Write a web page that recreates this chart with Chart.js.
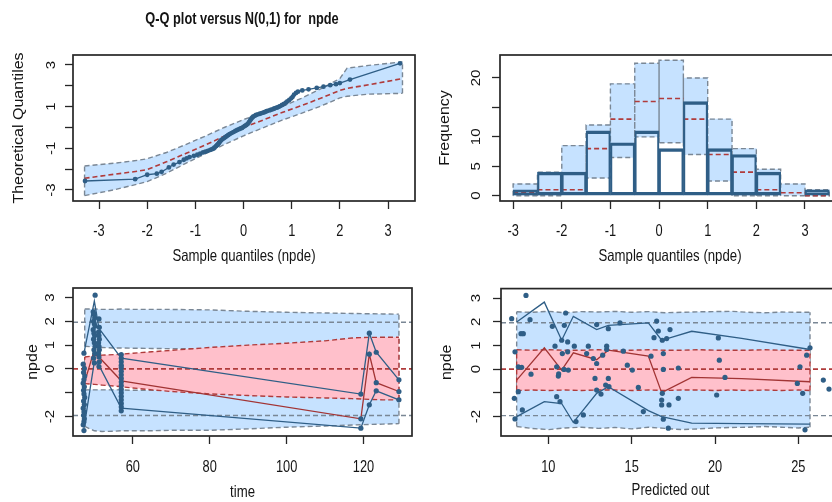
<!DOCTYPE html>
<html><head><meta charset="utf-8">
<script src="https://cdn.jsdelivr.net/npm/chart.js@4.4.1/dist/chart.umd.min.js"></script>
<style>
html,body{margin:0;padding:0;width:832px;height:502px;overflow:hidden;background:#fff;}
.p{position:absolute;}
</style></head><body>
<div class="p" style="left:0;top:0;"><canvas id="c1" width="484" height="270"></canvas></div>
<div class="p" style="left:420px;top:0;"><canvas id="c2" width="430" height="270"></canvas></div>
<div class="p" style="left:0;top:270px;"><canvas id="c3" width="416" height="232"></canvas></div>
<div class="p" style="left:420px;top:270px;"><canvas id="c4" width="430" height="232"></canvas></div>
<script>
// ================= DATA =================
// Panel 1 : Q-Q plot
const qqX = [-3.29, -2.25,-2.0,-1.8,-1.7, -1.55,-1.45,-1.33,-1.24, -1.18,-1.12,-1.03,-0.96,-0.9,-0.84,-0.79,-0.74,-0.69,-0.65,-0.62, -0.6,-0.57,-0.55,-0.53,-0.51,-0.49,-0.47,-0.44,-0.41, -0.38,-0.35,-0.32,-0.29,-0.25,-0.21,-0.17,-0.13,-0.09,-0.06,-0.03, 0.0,0.03,0.06,0.09,0.12,0.14,0.16,0.18, 0.2,0.23,0.26,0.3,0.34,0.38,0.42,0.45,0.48,0.52,0.56,0.6,0.63,0.66,0.7,0.73, 0.76,0.8,0.84,0.88,0.91,0.95,0.99,1.02, 1.05,1.09,1.13,1.22,1.35,1.52,1.66, 1.8,1.92,2.0,2.21, 3.25];
const qqY = [-2.57, -2.48,-2.27,-2.22,-2.13, -1.92,-1.78,-1.66,-1.55, -1.48,-1.42,-1.36,-1.31,-1.26,-1.2,-1.16,-1.12,-1.08,-1.04,-1.01, -0.96,-0.9,-0.85,-0.8,-0.74,-0.68,-0.62,-0.57,-0.52, -0.47,-0.42,-0.37,-0.32,-0.27,-0.22,-0.17,-0.12,-0.08,-0.05,-0.02, 0.03,0.08,0.12,0.18,0.27,0.35,0.42,0.47, 0.52,0.56,0.6,0.63,0.66,0.69,0.72,0.75,0.78,0.81,0.84,0.87,0.9,0.93,0.96,0.99, 1.03,1.08,1.13,1.19,1.25,1.32,1.4,1.47, 1.58,1.66,1.72,1.78,1.83,1.9,1.96, 2.03,2.08,2.13,2.3, 3.08];
const qqBandX  = [-3.3, -2.7, -2.2, -2.0, -1.6, -1.2, -0.8, -0.4, 0, 0.4, 0.8, 1.2, 1.6, 2.0, 2.15, 2.6, 3.3];
const qqUpper  = [-1.85, -1.72, -1.58, -1.5, -1.2, -0.82, -0.42, 0.0, 0.38, 0.7, 1.0, 1.4, 1.85, 2.35, 2.85, 2.98, 3.15];
const qqMedian = [-2.44, -2.25, -2.1, -2.02, -1.65, -1.25, -0.85, -0.42, 0.0, 0.35, 0.72, 1.05, 1.4, 1.78, 1.88, 2.05, 2.35];
const qqLower  = [-3.27, -3.0, -2.72, -2.6, -2.2, -1.72, -1.27, -0.82, -0.4, -0.02, 0.35, 0.68, 1.02, 1.42, 1.5, 1.6, 1.64];
const qqXRange = [-3.54, 3.56], qqYRange = [-3.53, 3.48];
const qqXTicks = [-3,-2,-1,0,1,2,3], qqXTickLabels = ['-3','-2','-1','0','1','2','3'];
const qqYTicks = [-3,-2,-1,0,1,2,3], qqYTickLabels = ['-3','','-1','','1','','3'];

// Panel 2 : histogram
const histBreaks = [-3,-2.5,-2,-1.5,-1,-0.5,0,0.5,1,1.5,2,2.5,3,3.5];
const histObs    = [1, 4, 4, 11, 9, 11, 8, 16, 8, 7, 4, 0, 1];
const histLower  = [0, 0, 0.5, 3, 6.5, 10, 9, 7, 2.5, 0, 0, 0, 0];
const histMedian = [0.5, 1, 1, 8, 13, 16, 16.5, 13, 7, 4, 1, 0.5, 0];
const histUpper  = [2, 4, 8.5, 12, 19, 22.5, 23, 20, 13, 8, 4.5, 2, 1];
const histXRange = [-3.27, 3.72], histYRange = [-0.9, 23.9];
const histXTicks = [-3,-2,-1,0,1,2,3], histXTickLabels = ['-3','-2','-1','0','1','2','3'];
const histYTicks = [0,5,10,15,20], histYTickLabels = ['0','5','10','','20'];

// Panel 3 : npde vs time
const timeObs = [47.3,47.1,47.4,47.2,47.5,47.3,47.1,47.4,47.2,47.3,47.5,47.2,47.4,47.1,47.3,47.2,47.4,47.3,47.1,47.3,
  50.2,49.7,49.9,50.1,49.8,50.0,50.2,49.7,49.9,50.1,49.8,50.0,50.2,49.9,50.1,49.8,50.0,
  51.2,51.3,51.1,51.2,51.3,51.1,51.2,51.3,51.1,51.2,51.3,51.2,
  57.0,57.0,57.0,57.0,57.0,57.0,57.0,57.0,57.0,57.0,57.0,57.0,57.0,57.0,57.0,57.0,57.0,
  119.3,119.3,119.3, 121.5,121.5,121.5, 123.3,123.3,123.3, 129.2,129.2,129.2];
const npdeTime = [0.66,0.2,0.02,-0.15,-0.3,-0.45,-0.6,-0.75,-0.9,-1.05,-1.2,-1.35,-1.5,-1.65,-1.8,-1.95,-2.1,-2.22,-2.35,-2.59,
  3.1,2.4,2.3,2.15,2.0,1.9,1.8,1.65,1.5,1.4,1.25,1.1,0.95,0.8,0.65,0.45,0.25,
  2.1,1.75,1.55,1.4,1.25,1.1,0.95,0.8,0.65,0.5,0.3,0.1,
  0.6,0.45,0.3,0.15,0.05,-0.1,-0.25,-0.4,-0.55,-0.7,-0.85,-1.0,-1.15,-1.3,-1.45,-1.6,-1.76,
  -1.06,-2.1,-2.49, 1.5,0.62,-1.51, 0.7,-0.58,-0.92, -0.46,-0.95,-1.3];
const timeGrid      = [47.3, 50.0, 51.2, 57.0, 119.3, 121.5, 123.3, 129.2];
const timeObsUpper  = [0.66, 2.85, 1.7, 0.45, -1.06, 1.5, 0.7, -0.46];
const timeObsMedian = [-0.65, 0.8, 0.5, -0.5, -2.1, 0.62, -0.58, -0.95];
const timeObsLower  = [-2.5, 0.3, 0.15, -1.65, -2.49, -1.51, -0.92, -1.3];
const timeBandX = [47.5, 50, 52, 55, 57, 60, 65, 70, 80, 90, 100, 110, 117, 120, 125, 129.2];
const timeHiTop = [2.52, 2.52, 2.5, 2.5, 2.52, 2.5, 2.5, 2.5, 2.48, 2.42, 2.38, 2.35, 2.33, 2.32, 2.31, 2.3];
const timeHiBot = [0.95, 0.92, 0.9, 0.88, 0.88, 0.87, 0.86, 0.85, 0.85, 0.85, 0.85, 0.85, 0.85, 0.85, 0.85, 0.85];
const timeMedTop = [0.5, 0.55, 0.58, 0.6, 0.62, 0.66, 0.72, 0.78, 0.9, 1.0, 1.08, 1.18, 1.3, 1.32, 1.33, 1.33];
const timeMedBot = [-0.62, -0.65, -0.68, -0.72, -0.75, -0.8, -0.88, -0.95, -1.05, -1.12, -1.18, -1.22, -1.25, -1.27, -1.3, -1.3];
const timeLoTop = [-0.88, -0.88, -0.88, -0.88, -0.88, -0.9, -0.9, -0.9, -0.9, -0.9, -0.9, -0.9, -0.9, -0.9, -0.9, -0.9];
const timeLoBot = [-2.42, -2.6, -2.63, -2.62, -2.6, -2.6, -2.6, -2.58, -2.58, -2.52, -2.45, -2.4, -2.36, -2.34, -2.32, -2.3];
const timeXRange = [44.45, 132.6];
const timeXTicks = [60,80,100,120], timeXTickLabels = ['60','80','100','120'];

// Panel 4 : npde vs predictions
const predObs = [7.8,8.66,8.9,8.36,8.5,8.0,8.2,8.4,8.96,7.96,8.2,8.0,8.44,
  10.24,10.4,10.5,10.6,10.62,10.5,10.7,10.8,10.84,10.94,11.04,10.96,11.16,11.16,11.2,11.56,11.66,
  12.1,12.3,12.4,12.7,12.8,12.9,12.9,12.9,13.16,13.26,13.44,13.5,13.5,13.6,13.6,13.64,
  14.3,14.5,14.74,15.04,15.4,15.7,16.16,16.34,16.5,16.6,16.84,16.9,16.9,16.84,16.8,16.8,16.9,
  17.1,17.24,17.3,17.2,17.8,17.8, 20.2,20.26,20.1,20.6, 24.94,25.1,25.26,25.5,25.7,25.4,26.5,26.84];
const npdePred = [2.13,3.11,2.09,1.5,1.5,0.73,0.1,0.08,-0.21,-1.23,-0.95,-2.1,-1.72,
  1.81,0.97,0.1,-0.29,-0.2,-1.16,-1.37,1.22,0.66,-0.01,2.37,1.85,1.15,0.73,-0.04,0.97,-2.21,
  -1.93,0.66,0.97,0.45,-0.39,0.24,1.88,-0.88,-1.05,0.59,-0.67,0.83,0.97,1.71,-0.39,-0.74,
  1.95,0.76,0.17,-0.04,-0.77,-1.79,0.55,1.33,2.03,1.61,1.22,0.66,-0.01,-1.02,-1.3,-1.51,-2.11,
  1.29,-1.51,1.67,-2.49,0.05,-1.23, 1.32,0.38,-1.09,-0.35, -0.6,0.1,-1.02,0.59,0.9,-2.56,-0.46,-0.84];
const predGrid      = [8.1, 9.76, 10.8, 11.5, 12.9, 13.6, 16.0, 16.8, 18.6, 21.6, 25.7];
const predObsUpper  = [1.99, 2.83, 1.22, 2.23, 1.67, 1.85, 1.95, 1.22, 1.6, 1.3, 0.83];
const predObsMedian = [-0.46, 0.9, -0.04, 0.69, 0.4, 0.8, 0.55, -0.99, -0.35, -0.4, -0.53];
const predObsLower  = [-2.0, -1.37, -1.45, -2.25, -1.02, -0.74, -1.75, -2.0, -2.28, -2.3, -2.32];
const predBandX  = [8.1, 9, 10, 11, 12, 13, 14, 15, 16, 17, 18, 19, 20, 21, 22, 23, 24, 25, 25.7];
const predHiTop  = [2.42, 2.4, 2.44, 2.38, 2.43, 2.41, 2.44, 2.4, 2.43, 2.38, 2.4, 2.42, 2.43, 2.44, 2.4, 2.38, 2.41, 2.4, 2.4];
const predMedTop = [0.82, 0.8, 0.82, 0.8, 0.8, 0.82, 0.8, 0.8, 0.82, 0.8, 0.8, 0.82, 0.8, 0.8, 0.8, 0.82, 0.8, 0.8, 0.8];
const predMedBot = [-0.9, -0.88, -0.9, -0.88, -0.9, -0.88, -0.88, -0.9, -0.88, -0.9, -0.88, -0.88, -0.9, -0.88, -0.9, -0.88, -0.9, -0.88, -0.9];
const predLoBot  = [-2.42, -2.5, -2.55, -2.48, -2.45, -2.5, -2.46, -2.52, -2.45, -2.5, -2.55, -2.52, -2.48, -2.46, -2.45, -2.42, -2.45, -2.48, -2.45];
const predXRange = [7.16, 27.5];
const predXTicks = [10,15,20,25], predXTickLabels = ['10','15','20','25'];

// shared npde axis
const npdeYRange = [-2.82, 3.40];
const npdeYTicks = [-2,-1,0,1,2,3], npdeYTickLabels = ['-2','','0','1','2','3'];
const refLevels = [-1.96, 0, 1.96];

// ================= STYLE =================
// The reference picture is horizontally condensed: squeeze glyphs sideways (text stays real text).
const SQX = 0.8, SQR = 0.9;
(function () {
  const proto = CanvasRenderingContext2D.prototype;
  const orig = proto.fillText;
  proto.fillText = function (text, x, y, maxWidth) {
    const m = this.getTransform();
    const rotated = Math.abs(m.b) > 1e-6;
    this.save();
    this.translate(x, y);
    if (rotated) this.scale(1, SQR); else this.scale(SQX, 1);
    if (maxWidth !== undefined) orig.call(this, text, 0, 0, rotated ? maxWidth : maxWidth / SQX);
    else orig.call(this, text, 0, 0);
    this.restore();
  };
})();

const FR = "'Liberation Sans', Arial, sans-serif";
const AX = '#262626', TXT = '#141414';
const BLUEF = '#C6E2FF', PINKF = '#FFC0CB';
const GREYD = '#7A8795', REDD = '#B03B3B', DARKB = '#2F5E86', DARKR = '#A23434';
const DASH = [5, 3];

const pts = (xs, ys) => xs.map((x, i) => ({x, y: ys[i]}));

function xAxis(range, ticks, labels, title, h, tickPad, titlePad) {
  return {
    type: 'linear', position: 'bottom', min: range[0], max: range[1], offset: false,
    afterBuildTicks: s => { s.ticks = ticks.map(v => ({value: v})); },
    afterFit: s => { s.height = h; },
    ticks: {callback: (v, i) => labels[i], font: {family: FR, size: 16, lineHeight: 1.2}, color: TXT, padding: tickPad, autoSkip: false, maxRotation: 0, minRotation: 0},
    grid: {display: true, drawOnChartArea: false, drawTicks: true, tickLength: 8, color: AX, tickColor: AX, tickWidth: 1.3, offset: false},
    border: {display: false},
    title: {display: true, text: title, font: {family: FR, size: 16.5, lineHeight: 1.2}, color: TXT, padding: {top: 0, bottom: titlePad}}
  };
}
function yAxis(range, ticks, labels, title, w, tickPad, titlePad) {
  return {
    type: 'linear', position: 'left', min: range[0], max: range[1],
    afterBuildTicks: s => { s.ticks = ticks.map(v => ({value: v})); },
    afterFit: s => { s.width = w; },
    ticks: {callback: (v, i) => labels[i], font: {family: FR, size: 15}, color: TXT, padding: tickPad, autoSkip: false, minRotation: 90, maxRotation: 90, crossAlign: 'center'},
    grid: {display: true, drawOnChartArea: false, drawTicks: true, tickLength: 8, color: AX, tickColor: AX, tickWidth: 1.3},
    border: {display: false},
    title: {display: true, text: title, font: {family: FR, size: 16, lineHeight: 1.2}, color: TXT, padding: {top: titlePad, bottom: 0}}
  };
}
const boxPlugin = {
  id: 'rbox',
  afterDatasetsDraw(chart) {
    const {ctx, chartArea: a} = chart;
    ctx.save(); ctx.strokeStyle = AX; ctx.lineWidth = 1.7; ctx.setLineDash([]);
    ctx.strokeRect(a.left, a.top, a.right - a.left, a.bottom - a.top);
    ctx.restore();
  }
};
const baseOpts = (padding) => ({
  responsive: false, animation: false, devicePixelRatio: 1,
  layout: {padding},
  plugins: {legend: {display: false}, tooltip: {enabled: false}},
  elements: {line: {tension: 0}},
});
function dashed(data, color, order, extra) {
  return Object.assign({type: 'line', data, borderColor: color, borderWidth: 1.4, borderDash: DASH, pointRadius: 0, fill: false, order, spanGaps: false}, extra || {});
}
function solid(data, color, order, w) {
  return {type: 'line', data, borderColor: color, borderWidth: w || 1.3, pointRadius: 0, fill: false, order};
}
function endEdges(xs, lo, hi) {
  const n = xs.length - 1;
  return [{x: xs[0], y: lo[0]}, {x: xs[0], y: hi[0]}, {x: xs[0], y: null}, {x: xs[n], y: lo[n]}, {x: xs[n], y: hi[n]}];
}
function refLine(range, level) { return [{x: range[0], y: level}, {x: range[1], y: level}]; }

// ================= PANEL 1 : QQ =================
{
  const o = baseOpts({left: 0, right: 0, top: 0, bottom: 0});
  o.plugins.title = {display: true, text: 'Q-Q plot versus N(0,1) for  npde', font: {family: FR, size: 16, weight: 'bold', lineHeight: 1.2}, color: TXT, padding: {top: 10.4, bottom: 25.4}};
  o.scales = {
    x: xAxis(qqXRange, qqXTicks, qqXTickLabels, 'Sample quantiles (npde)', 69, 13, 4),
    y: yAxis(qqYRange, qqYTicks, qqYTickLabels, 'Theoretical Quantiles', 73, 7.5, 9.4),
    yr: {type: 'linear', position: 'right', display: true, ticks: {display: false}, grid: {display: false}, border: {display: false}, afterFit: s => { s.width = 69; }}
  };
  new Chart(document.getElementById('c1'), {
    type: 'line',
    data: {datasets: [
      dashed(pts(qqBandX, qqUpper), GREYD, 9, {fill: '+1', backgroundColor: BLUEF}),
      dashed(pts(qqBandX, qqLower), GREYD, 8),
      dashed(endEdges(qqBandX, qqLower, qqUpper), GREYD, 7),
      dashed(pts(qqBandX, qqMedian), REDD, 5, {borderWidth: 1.6}),
      {type: 'line', data: pts(qqX, qqY), borderColor: DARKB, borderWidth: 1.3, pointRadius: 2.4, pointBackgroundColor: DARKB, pointBorderWidth: 0, fill: false, order: 1}
    ]},
    options: o, plugins: [boxPlugin]
  });
}

// ================= PANEL 2 : histogram =================
{
  const o = baseOpts({left: 0, right: 10, top: 55, bottom: 0});
  o.scales = {
    x: xAxis(histXRange, histXTicks, histXTickLabels, 'Sample quantiles (npde)', 69, 13, 4),
    y: yAxis(histYRange, histYTicks, histYTickLabels, 'Frequency', 80, 7, 15.4)
  };
  const mids = histBreaks.slice(0, -1).map((b, i) => (b + histBreaks[i + 1]) / 2);
  const rects = [], meds = [];
  for (let i = 0; i < histObs.length; i++) {
    const l = histBreaks[i], r = histBreaks[i + 1];
    rects.push({x: l, y: histLower[i]}, {x: l, y: histUpper[i]}, {x: r, y: histUpper[i]}, {x: r, y: histLower[i]}, {x: l, y: histLower[i]}, {x: l, y: null});
    meds.push({x: l, y: histMedian[i]}, {x: r, y: histMedian[i]}, {x: r, y: null});
  }
  new Chart(document.getElementById('c2'), {
    type: 'line',
    data: {datasets: [
      {type: 'bar', data: mids.map((m, i) => ({x: m, y: [histLower[i], histUpper[i]]})), backgroundColor: BLUEF, borderWidth: 0, grouped: false, barPercentage: 1, categoryPercentage: 1, order: 10},
      dashed(rects, GREYD, 8),
      dashed(meds, REDD, 6, {borderWidth: 1.6}),
      {type: 'bar', data: mids.map((m, i) => ({x: m, y: histObs[i]})), backgroundColor: 'rgba(0,0,0,0)', borderColor: DARKB, borderWidth: {top: 2.8, bottom: 2.8, left: 1.5, right: 1.5}, borderSkipped: false, grouped: false, barPercentage: 1, categoryPercentage: 1, order: 1}
    ]},
    options: o, plugins: [boxPlugin]
  });
}

// ================= PANELS 3 & 4 =================
function npdePanel(id, padding, xRange, xTicks, xLabels, xTitle, yW, yTickPad, yTitlePad, xTitlePad, bands, obs) {
  const o = baseOpts(padding);
  o.scales = {
    x: xAxis(xRange, xTicks, xLabels, xTitle, 66, 14, xTitlePad),
    y: yAxis(npdeYRange, npdeYTicks, npdeYTickLabels, 'npde', yW, yTickPad, yTitlePad)
  };
  const ds = bands.slice();
  ds.push(dashed(refLine(xRange, refLevels[0]), GREYD, 5));
  ds.push(dashed(refLine(xRange, refLevels[2]), GREYD, 5));
  ds.push(dashed(refLine(xRange, refLevels[1]), REDD, 5, {borderWidth: 1.6}));
  ds.push(solid(pts(obs.grid, obs.up), DARKB, 3));
  ds.push(solid(pts(obs.grid, obs.med), DARKR, 3));
  ds.push(solid(pts(obs.grid, obs.lo), DARKB, 3));
  ds.push({type: 'line', data: pts(obs.x, obs.y), showLine: false, pointRadius: 2.6, pointBackgroundColor: DARKB, pointBorderWidth: 0, order: 1});
  new Chart(document.getElementById(id), {type: 'line', data: {datasets: ds}, options: o, plugins: [boxPlugin]});
}

npdePanel('c3', {left: 0, right: 1, top: 18, bottom: 0}, timeXRange, timeXTicks, timeXTickLabels, 'time', 73, 8.3, 23.4, 0, [
  dashed(pts(timeBandX, timeHiTop), GREYD, 20, {fill: '+1', backgroundColor: BLUEF}),
  dashed(pts(timeBandX, timeHiBot), GREYD, 19),
  dashed(pts(timeBandX, timeLoTop), GREYD, 18, {fill: '+1', backgroundColor: BLUEF}),
  dashed(pts(timeBandX, timeLoBot), GREYD, 17),
  dashed(endEdges(timeBandX, timeLoBot, timeHiTop), GREYD, 16),
  dashed(pts(timeBandX, timeMedTop), REDD, 12, {fill: '+1', backgroundColor: PINKF}),
  dashed(pts(timeBandX, timeMedBot), REDD, 11),
  dashed(endEdges(timeBandX, timeMedBot, timeMedTop), REDD, 10)
], {grid: timeGrid, up: timeObsUpper, med: timeObsMedian, lo: timeObsLower, x: timeObs, y: npdeTime});

npdePanel('c4', {left: 0, right: 10, top: 18, bottom: 0}, predXRange, predXTicks, predXTickLabels, 'Predicted out', 81, 9.6, 17.4, 2, [
  dashed(pts(predBandX, predHiTop), GREYD, 20, {fill: '+1', backgroundColor: BLUEF}),
  dashed(pts(predBandX, predLoBot), GREYD, 19),
  dashed(endEdges(predBandX, predLoBot, predHiTop), GREYD, 16),
  dashed(pts(predBandX, predMedTop), REDD, 12, {fill: '+1', backgroundColor: PINKF}),
  dashed(pts(predBandX, predMedBot), REDD, 11),
  dashed(endEdges(predBandX, predMedBot, predMedTop), REDD, 10)
], {grid: predGrid, up: predObsUpper, med: predObsMedian, lo: predObsLower, x: predObs, y: npdePred});
</script>
</body></html>
